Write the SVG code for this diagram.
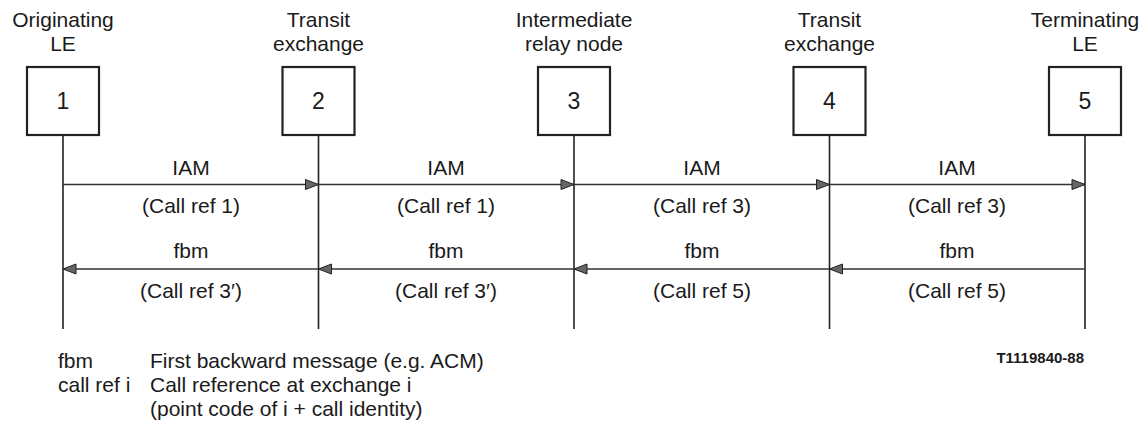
<svg xmlns="http://www.w3.org/2000/svg" width="1146" height="421" viewBox="0 0 1146 421">
<style>
text{font-family:"Liberation Sans",Arial,sans-serif;fill:#1a1a1a}
.h{font-size:21px;text-anchor:middle}
.n{font-size:23px;text-anchor:middle}
.m{font-size:21px;text-anchor:middle}
.l{font-size:21px}
.box{fill:#fff;stroke:#222;stroke-width:2.2}
.life{stroke:#222;stroke-width:1.6;fill:none}
.msg{stroke:#333;stroke-width:1.5;fill:none;marker-end:url(#ah)}
</style>
<defs>
<marker id="ah" markerUnits="userSpaceOnUse" markerWidth="15" markerHeight="12" refX="14" refY="6" orient="auto">
<path d="M1,1 L14,6 L1,11 Z" fill="#666" stroke="#222" stroke-width="1"/>
</marker>
</defs>
<g id="node1">
<text class="h" x="63" y="27">Originating</text>
<text class="h" x="63" y="51">LE</text>
<rect class="box" x="27" y="67" width="72" height="68"/>
<text class="n" x="63" y="109">1</text>
</g>
<g id="node2">
<text class="h" x="318.5" y="27">Transit</text>
<text class="h" x="318.5" y="51">exchange</text>
<rect class="box" x="282.5" y="67" width="72" height="68"/>
<text class="n" x="318.5" y="109">2</text>
</g>
<g id="node3">
<text class="h" x="574" y="27">Intermediate</text>
<text class="h" x="574" y="51">relay node</text>
<rect class="box" x="538" y="67" width="72" height="68"/>
<text class="n" x="574" y="109">3</text>
</g>
<g id="node4">
<text class="h" x="829.5" y="27">Transit</text>
<text class="h" x="829.5" y="51">exchange</text>
<rect class="box" x="793.5" y="67" width="72" height="68"/>
<text class="n" x="829.5" y="109">4</text>
</g>
<g id="node5">
<text class="h" x="1085" y="27">Terminating</text>
<text class="h" x="1085" y="51">LE</text>
<rect class="box" x="1049" y="67" width="72" height="68"/>
<text class="n" x="1085" y="109">5</text>
</g>
<g id="connectors">
<line class="life" x1="63" y1="136" x2="63" y2="329"/>
<line class="life" x1="318.5" y1="136" x2="318.5" y2="329"/>
<line class="life" x1="574" y1="136" x2="574" y2="329"/>
<line class="life" x1="829.5" y1="136" x2="829.5" y2="329"/>
<line class="life" x1="1085" y1="136" x2="1085" y2="329"/>
<line class="msg" x1="63" y1="184.5" x2="318.5" y2="184.5"/>
<line class="msg" x1="318.5" y1="184.5" x2="574" y2="184.5"/>
<line class="msg" x1="574" y1="184.5" x2="829.5" y2="184.5"/>
<line class="msg" x1="829.5" y1="184.5" x2="1085" y2="184.5"/>
<line class="msg" x1="318.5" y1="269" x2="63" y2="269"/>
<line class="msg" x1="574" y1="269" x2="318.5" y2="269"/>
<line class="msg" x1="829.5" y1="269" x2="574" y2="269"/>
<line class="msg" x1="1085" y1="269" x2="829.5" y2="269"/>
<text class="m" x="191" y="175">IAM</text>
<text class="m" x="191" y="213">(Call ref 1)</text>
<text class="m" x="446" y="175">IAM</text>
<text class="m" x="446" y="213">(Call ref 1)</text>
<text class="m" x="702" y="175">IAM</text>
<text class="m" x="702" y="213">(Call ref 3)</text>
<text class="m" x="957" y="175">IAM</text>
<text class="m" x="957" y="213">(Call ref 3)</text>
<text class="m" x="191" y="258">fbm</text>
<text class="m" x="191" y="298">(Call ref 3′)</text>
<text class="m" x="446" y="258">fbm</text>
<text class="m" x="446" y="298">(Call ref 3′)</text>
<text class="m" x="702" y="258">fbm</text>
<text class="m" x="702" y="298">(Call ref 5)</text>
<text class="m" x="957" y="258">fbm</text>
<text class="m" x="957" y="298">(Call ref 5)</text>
</g>
<g id="legend">
<text class="l" x="58" y="368">fbm</text>
<text class="l" x="150" y="368">First backward message (e.g. ACM)</text>
<text class="l" x="58" y="392">call ref i</text>
<text class="l" x="150" y="392">Call reference at exchange i</text>
<text class="l" x="150" y="416">(point code of i + call identity)</text>
<text x="1084" y="363" style="font-size:15px;font-weight:bold;text-anchor:end">T1119840-88</text>
</g>
</svg>
